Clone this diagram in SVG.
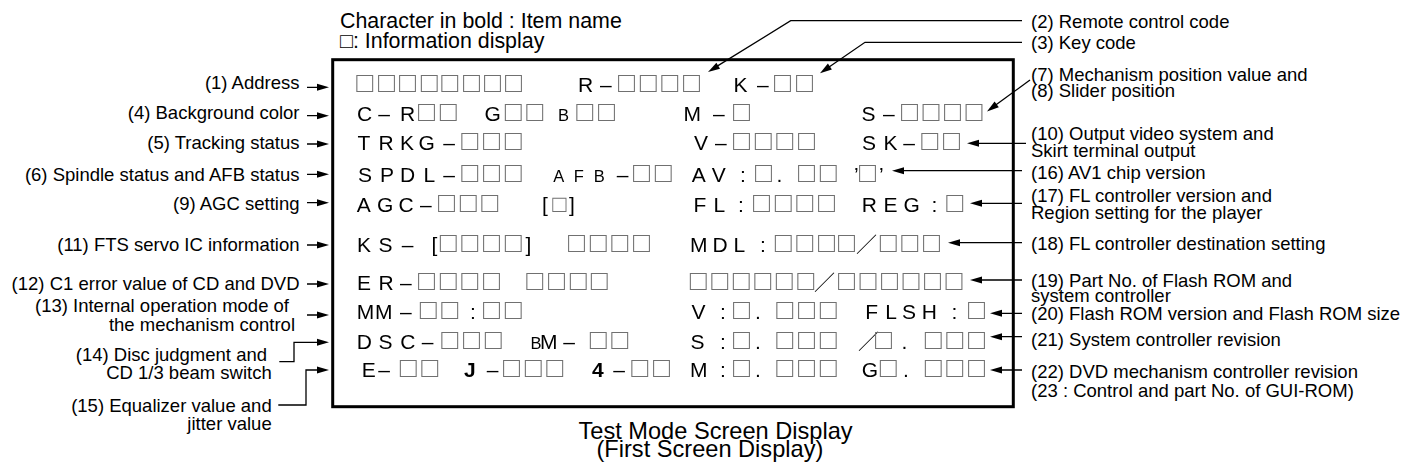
<svg xmlns="http://www.w3.org/2000/svg" width="1404" height="468" viewBox="0 0 1404 468">
<defs>
<style>
.t{font-family:"Liberation Sans",Arial,sans-serif;font-size:21px;fill:#000}
.sm{font-size:16.5px}
.b{font-weight:bold}
.sq{font-family:"Liberation Sans",Arial,sans-serif;font-size:28px;fill:#707070}
.sq2{font-family:"Liberation Sans",Arial,sans-serif;font-size:24px;fill:#707070}
.fw{font-family:"Noto Sans CJK JP",sans-serif;font-size:21px;fill:#000}
.lb{font-family:"Liberation Sans",Arial,sans-serif;font-size:18.5px;fill:#000}
.le{text-anchor:end}
.leg{font-family:"Liberation Sans",Arial,sans-serif;font-size:21.4px;fill:#000}
.cap{font-family:"Liberation Sans",Arial,sans-serif;font-size:23.6px;fill:#000}
.ln{fill:none;stroke:#000;stroke-width:1.3}
.hd{fill:#000;stroke:none}
</style>
<filter id="flat" filterUnits="userSpaceOnUse" x="0" y="0" width="1404" height="468">
<feOffset dx="0" dy="0"/>
</filter>
</defs>
<rect width="1404" height="468" fill="#fff"/>

<g id="legend">
<text class="leg" x="340" y="28">Character in bold : Item name</text>
<text class="leg" x="340" y="48.3">□: Information display</text>
</g>

<g id="screen" filter="url(#flat)">
<rect x="332.7" y="59.7" width="680.6" height="347" fill="none" stroke="#000" stroke-width="3"/>
<g id="row1">
<text class="sq" x="356.3 378 399 420.7 441.3 463 484 505" y="91.5">□□□□□□□□</text>
<text class="t" x="578 600" y="91.5">R–<tspan class="sq" x="618 639.7 661.3 683">□□□□</tspan></text>
<text class="t" x="733.5 757" y="91.5">K–<tspan class="sq" x="774 796">□□</tspan></text>
</g>
<g id="row2">
<text class="t" x="357 378.3 400" y="120.5">C–R<tspan class="sq" x="418 439.7">□□</tspan></text>
<text class="t" x="484.5" y="120.5">G<tspan class="sq" x="504.7 526.3">□□</tspan></text>
<text class="t" x="558" y="120.5"><tspan class="sm">B</tspan><tspan class="sq" x="576.3 598">□□</tspan></text>
<text class="t" x="683.5 713" y="120.5">M–<tspan class="sq" x="733">□</tspan></text>
<text class="t" x="861.5 883" y="120.5">S–<tspan class="sq" x="901 922.5 944 965.5">□□□□</tspan></text>
</g>
<g id="row3">
<text class="t" x="357.5 378.5 400 418.5 443.3" y="150">TRKG–<tspan class="sq" x="461.3 483 504.7">□□□</tspan></text>
<text class="t" x="694 715" y="150">V–<tspan class="sq" x="733 754.7 776.3 798">□□□□</tspan></text>
<text class="t" x="862 883.5 903.3" y="150">SK–<tspan class="sq" x="921.3 943">□□</tspan></text>
</g>
<g id="row4">
<text class="t" x="358 380 400 423.5 443.3" y="181.5">SPDL–<tspan class="sq" x="461.3 483 504.7">□□□</tspan></text>
<text class="t" y="181.5"><tspan class="sm" x="553.3 573.8 593.8">AFB</tspan><tspan x="616.7">–</tspan><tspan class="sq" x="633 654.7">□□</tspan></text>
<text class="t" x="691.7 711.7 740" y="181.5">AV:<tspan class="sq" x="755">□</tspan><tspan x="776.5">.</tspan><tspan class="sq" x="798 819.7">□□</tspan><tspan x="854">’</tspan><tspan class="sq" x="859">□</tspan><tspan x="879">’</tspan></text>
</g>
<g id="row5">
<text class="t" x="356.7 377 398.5 420" y="211.5">AGC–<tspan class="sq" x="438 459.7 481.3">□□□</tspan></text>
<text class="t" x="542" y="211.5">[<tspan class="sq2" x="552.3">□</tspan><tspan x="569">]</tspan></text>
<text class="t" x="693.5 713.5 738" y="211.5">FL:<tspan class="sq" x="753 774.7 796.3 818">□□□□</tspan></text>
<text class="t" x="861.7 883.5 903.5 931.5" y="211.5">REG:<tspan class="sq" x="946.3">□</tspan></text>
</g>
<g id="row6">
<text class="t" x="357 378.5 401.7 431.5" y="251.5">KS–[<tspan class="sq" x="439.7 461.3 483 504.7">□□□□</tspan><tspan x="525.5">]</tspan></text>
<text class="sq" x="568 589.7 611.3 633" y="251.5">□□□□</text>
<text class="t" x="690 712.5 733.5 760" y="251.5">MDL:<tspan class="sq" x="774.7 796.3 818 838">□□□□</tspan><tspan class="fw" x="856">／</tspan><tspan class="sq" x="879.7 901.3 923">□□□</tspan></text>
</g>
<g id="row7">
<text class="t" x="357 378.5 400" y="290">ER–<tspan class="sq" x="418 439.7 461.3 483">□□□□</tspan></text>
<text class="sq" x="526.3 548 569.7 590.7" y="290">□□□□</text>
<text class="sq" x="689.7 711.2 732.7 754.2 775.7 797.2" y="290">□□□□□□<tspan class="fw" x="814">／</tspan><tspan x="838 859.5 881 902.5 924 945.5">□□□□□□</tspan></text>
</g>
<g id="row8">
<text class="t" x="356.7 375 400" y="318.5">MM–<tspan class="sq" x="419.7 441.3">□□</tspan><tspan x="470">:</tspan><tspan class="sq" x="483 504.7">□□</tspan></text>
<text class="t" x="691.5 720" y="318.5">V:<tspan class="sq" x="733">□</tspan><tspan x="755">.</tspan><tspan class="sq" x="776.3 798 819.7">□□□</tspan></text>
<text class="t" x="865.2 885.2 902 921.8 951.5" y="318.5">FLSH:<tspan class="sq" x="968">□</tspan></text>
</g>
<g id="row9">
<text class="t" x="356.7 378.5 400.2 421.7" y="348.5">DSC–<tspan class="sq" x="441.3 463 484.7">□□□</tspan></text>
<text class="t" y="348.5"><tspan class="sm" x="530.5">B</tspan><tspan x="540 563.3">M–</tspan><tspan class="sq" x="589.7 611.3">□□</tspan></text>
<text class="t" x="690.5 720" y="348.5">S:<tspan class="sq" x="733">□</tspan><tspan x="755">.</tspan><tspan class="sq" x="776.3 798 819.7">□□□</tspan></text>
<text class="fw" x="858" y="348.5">／<tspan class="sq" x="875">□</tspan><tspan class="t" x="901.5">.</tspan><tspan class="sq" x="924.7 946.3 968">□□□</tspan></text>
</g>
<g id="row10">
<text class="t" x="361.8 378.3" y="377">E–<tspan class="sq" x="399.7 421.3">□□</tspan></text>
<text class="t" y="377"><tspan class="b" x="464">J</tspan><tspan x="486.7">–</tspan><tspan class="sq" x="503 524.7 546.3">□□□</tspan></text>
<text class="t" y="377"><tspan class="b" x="592">4</tspan><tspan x="613.3">–</tspan><tspan class="sq" x="631.3 653">□□</tspan></text>
<text class="t" x="690 720" y="377">M:<tspan class="sq" x="733">□</tspan><tspan x="755">.</tspan><tspan class="sq" x="776.3 798 819.7">□□□</tspan></text>
<text class="t" x="861.8" y="377">G<tspan class="sq" x="879.7">□</tspan><tspan x="903">.</tspan><tspan class="sq" x="924.7 946.3 968">□□□</tspan></text>
</g>
</g>

<g id="labels-left">
<g id="l1"><text class="lb le" x="299.5" y="89.3">(1) Address</text></g>
<g id="l4"><text class="lb le" x="299.5" y="119.3">(4) Background color</text></g>
<g id="l5"><text class="lb le" x="299.5" y="149.3">(5) Tracking status</text></g>
<g id="l6"><text class="lb le" x="299.5" y="180.7">(6) Spindle status and AFB status</text></g>
<g id="l9"><text class="lb le" x="299.5" y="210">(9) AGC setting</text></g>
<g id="l11"><text class="lb le" x="299.5" y="250.7">(11) FTS servo IC information</text></g>
<g id="l12"><text class="lb le" x="299.5" y="290">(12) C1 error value of CD and DVD</text></g>
<g id="l13"><text class="lb le" x="289" y="311.5">(13) Internal operation mode of</text><text class="lb le" x="295" y="331">the mechanism control</text></g>
<g id="l14"><text class="lb le" x="267" y="360.7">(14) Disc judgment and</text><text class="lb le" x="271.7" y="379.3">CD 1/3 beam switch</text></g>
<g id="l15"><text class="lb le" x="271.7" y="412.3">(15) Equalizer value and</text><text class="lb le" x="271.7" y="429.5">jitter value</text></g>
</g>

<g id="labels-right">
<g id="r2"><text class="lb" x="1031" y="28">(2) Remote control code</text></g>
<g id="r3"><text class="lb" x="1031" y="48.5">(3) Key code</text></g>
<g id="r7"><text class="lb" x="1031" y="80.5">(7) Mechanism position value and</text><text class="lb" x="1031" y="96.5">(8) Slider position</text></g>
<g id="r10"><text class="lb" x="1031" y="140">(10) Output video system and</text><text class="lb" x="1031" y="156.5">Skirt terminal output</text></g>
<g id="r16"><text class="lb" x="1031" y="179">(16) AV1 chip version</text></g>
<g id="r17"><text class="lb" x="1031" y="201.5">(17) FL controller version and</text><text class="lb" x="1031" y="218.5">Region setting for the player</text></g>
<g id="r18"><text class="lb" x="1031" y="250">(18) FL controller destination setting</text></g>
<g id="r19"><text class="lb" x="1031" y="286.5">(19) Part No. of Flash ROM and</text><text class="lb" x="1031" y="302">system controller</text></g>
<g id="r20"><text class="lb" x="1031" y="320">(20) Flash ROM version and Flash ROM size</text></g>
<g id="r21"><text class="lb" x="1031" y="346">(21) System controller revision</text></g>
<g id="r22"><text class="lb" x="1031" y="378">(22) DVD mechanism controller revision</text><text class="lb" x="1031" y="397">(23 : Control and part No. of GUI-ROM)</text></g>
</g>

<g id="connectors">
<path class="ln" d="M307,87.3 H320 M307,115.7 H320 M307,144 H320 M307,174.3 H320 M307,202.7 H320 M307,245 H320 M307,284 H320 M307,315 H320"/>
<path class="ln" d="M279.3,361.7 H294 V342.3 H320"/>
<path class="ln" d="M278.3,405 H306 V370 H320"/>
<path class="ln" d="M1022,20.7 H790.7 L716,66.9"/>
<path class="ln" d="M1022,42.3 H865 L828,67.8"/>
<path class="ln" d="M1030,80 L995,105.6"/>
<path class="ln" d="M1026,143.3 H976 M1022,170.7 H901 M1022,203.3 H979 M1022,242.7 H957 M1022,280 H979 M1022,313.3 H999 M1022,336.7 H999 M1022,370 H999"/>
<polygon class="hd" points="329,87.3 317,83.8 317,90.8"/>
<polygon class="hd" points="329,115.7 317,112.2 317,119.2"/>
<polygon class="hd" points="329,144 317,140.5 317,147.5"/>
<polygon class="hd" points="329,174.3 317,170.8 317,177.8"/>
<polygon class="hd" points="329,202.7 317,199.2 317,206.2"/>
<polygon class="hd" points="329,245 317,241.5 317,248.5"/>
<polygon class="hd" points="329,284 317,280.5 317,287.5"/>
<polygon class="hd" points="329,315 317,311.5 317,318.5"/>
<polygon class="hd" points="329,342.3 317,338.8 317,345.8"/>
<polygon class="hd" points="329,370 317,366.5 317,373.5"/>
<polygon class="hd" points="708,72 720,68.7 716.4,62.7"/>
<polygon class="hd" points="820,73.3 831.9,69.4 827.9,63.6"/>
<polygon class="hd" points="987,111.5 998.8,107.2 994.6,101.6"/>
<polygon class="hd" points="967,143.3 979,139.8 979,146.8"/>
<polygon class="hd" points="892,170.7 904,167.2 904,174.2"/>
<polygon class="hd" points="970,203.3 982,199.8 982,206.8"/>
<polygon class="hd" points="948,242.7 960,239.2 960,246.2"/>
<polygon class="hd" points="970,280 982,276.5 982,283.5"/>
<polygon class="hd" points="990,313.3 1002,309.8 1002,316.8"/>
<polygon class="hd" points="990,336.7 1002,333.2 1002,340.2"/>
<polygon class="hd" points="990,370 1002,366.5 1002,373.5"/>
</g>

<g id="caption">
<text class="cap" x="578.5" y="439">Test Mode Screen Display</text>
<text class="cap" x="596.5" y="457">(First Screen Display)</text>
</g>
</svg>
